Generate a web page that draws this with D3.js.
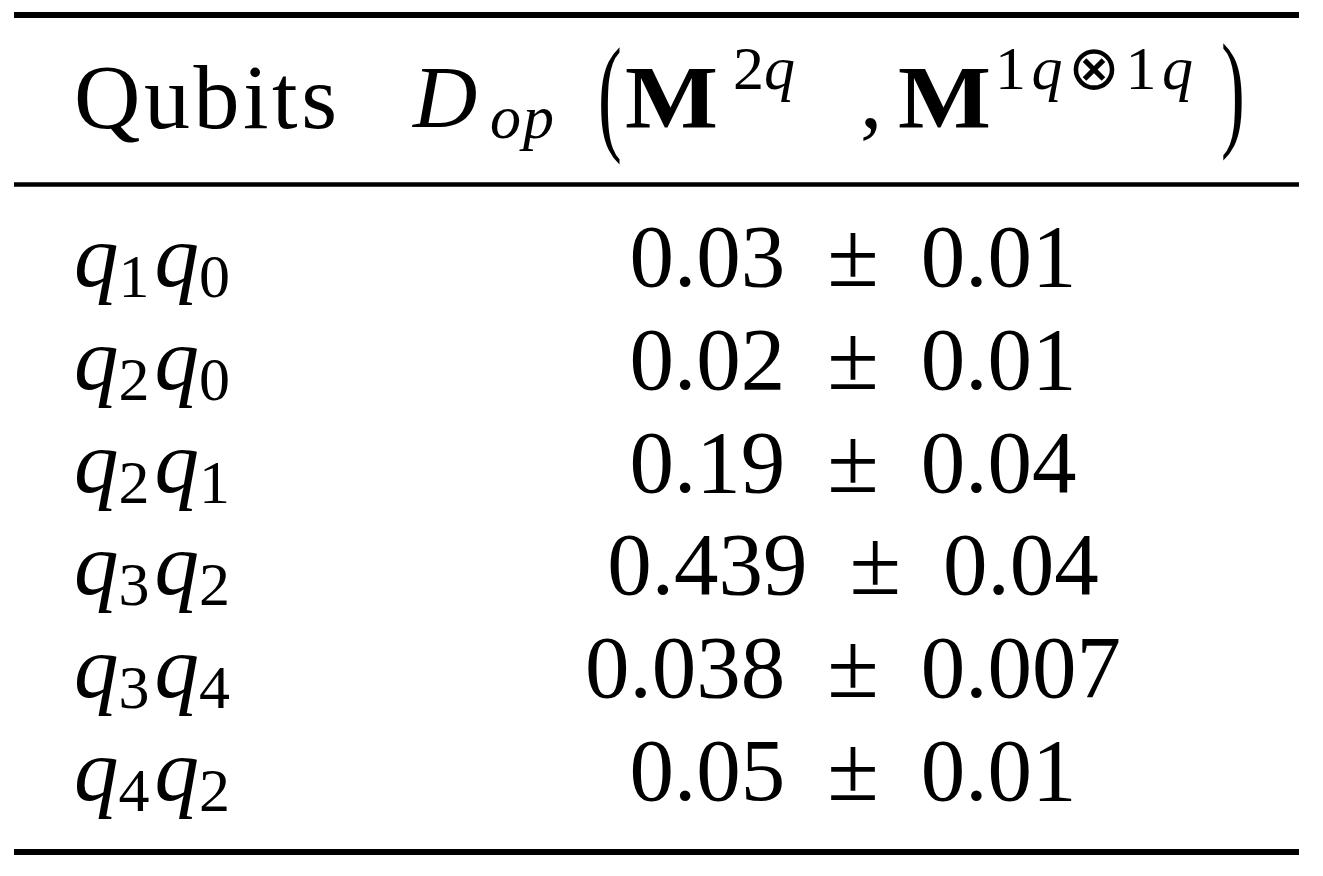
<!DOCTYPE html>
<html>
<head>
<meta charset="utf-8">
<script src="https://cdn.jsdelivr.net/npm/d3@7"></script>
<style>
  body { margin: 0; background: #fff; }
  text { font-family: "Liberation Serif", serif; fill: #000; }
</style>
</head>
<body>
<script>
// table rows: qubit pairs and D_op values
let qubitA = [1, 2, 2, 3, 3, 4];
let qubitB = [0, 0, 1, 2, 4, 2];
let means = [0.03, 0.02, 0.19, 0.439, 0.038, 0.05];
let errors = [0.01, 0.01, 0.04, 0.04, 0.007, 0.01];

let w = 1323, h = 876;
let fs = 89, sub = 62;

let svg = d3.select("body").append("svg").attr("width", w).attr("height", h);
svg.append("rect").attr("width", w).attr("height", h).attr("fill", "#fff");

let x0 = 14, x1 = 1299;
let rows = d3.range(means.length);
let yScale = d3.scalePoint().domain(rows).range([286, 800]);

// booktabs rules
let rules = [{y: 15, t: 6}, {y: 184.5, t: 4.5}, {y: 852, t: 6}];
svg.selectAll(".rule").data(rules).enter().append("line")
  .attr("class", "rule")
  .attr("x1", x0).attr("x2", x1)
  .attr("y1", d => d.y).attr("y2", d => d.y)
  .attr("stroke", "#000")
  .attr("stroke-width", d => d.t);

// header
let hdr = svg.append("g");
hdr.append("text").text("Qubits")
  .attr("x", 74).attr("y", 128)
  .attr("font-size", 92)
  .attr("textLength", 263).attr("lengthAdjust", "spacing");

hdr.append("text").text("D")
  .attr("x", 413).attr("y", 127)
  .attr("font-size", fs).attr("font-style", "italic");
hdr.append("text").text("op")
  .attr("x", 490).attr("y", 138)
  .attr("font-size", sub).attr("font-style", "italic")
  .attr("textLength", 64).attr("lengthAdjust", "spacing");

function paren(ch, x, y) {
  hdr.append("text").text(ch)
    .attr("transform", "translate(" + x + "," + y + ") scale(0.55,1)")
    .attr("font-size", 130);
}
paren("(", 598, 137);
paren(")", 1221, 133);

function bigM(x) {
  hdr.append("text").text("M")
    .attr("x", x).attr("y", 127)
    .attr("font-size", fs).attr("font-weight", "bold")
    .attr("textLength", 93).attr("lengthAdjust", "spacingAndGlyphs");
}
bigM(625);
bigM(898);

let s1 = hdr.append("text").attr("x", 733).attr("y", 89).attr("font-size", sub);
s1.append("tspan").text("2");
s1.append("tspan").text("q").attr("font-style", "italic");

hdr.append("text").text(",").attr("x", 860).attr("y", 127).attr("font-size", fs);

let s2 = hdr.append("text").attr("x", 995).attr("y", 89).attr("font-size", sub)
  .attr("textLength", 198).attr("lengthAdjust", "spacing");
s2.append("tspan").text("1");
s2.append("tspan").text("q").attr("font-style", "italic");
s2.append("tspan").text("\u2297")
  .attr("font-family", "DejaVu Sans").attr("font-size", 62);
s2.append("tspan").text("1");
s2.append("tspan").text("q").attr("font-style", "italic");

// body rows
let lab = svg.selectAll(".lab").data(rows).enter().append("text")
  .attr("class", "lab")
  .attr("x", 74)
  .attr("y", d => yScale(d))
  .attr("font-size", fs);
lab.append("tspan").text("q").attr("font-style", "italic");
lab.append("tspan").text(d => qubitA[d]).attr("font-size", sub).attr("dy", 11);
lab.append("tspan").text("q").attr("font-style", "italic").attr("dx", 5).attr("dy", -11);
lab.append("tspan").text(d => qubitB[d]).attr("font-size", sub).attr("dy", 11);

let val = svg.selectAll(".val").data(rows).enter().append("text")
  .attr("class", "val")
  .attr("x", 853)
  .attr("y", d => yScale(d))
  .attr("font-size", fs)
  .attr("text-anchor", "middle");
val.append("tspan").text(d => String(means[d]));
val.append("tspan").text("\u00b1").attr("dx", 42).attr("font-size", 94);
val.append("tspan").text(d => String(errors[d])).attr("dx", 42);
</script>
</body>
</html>
